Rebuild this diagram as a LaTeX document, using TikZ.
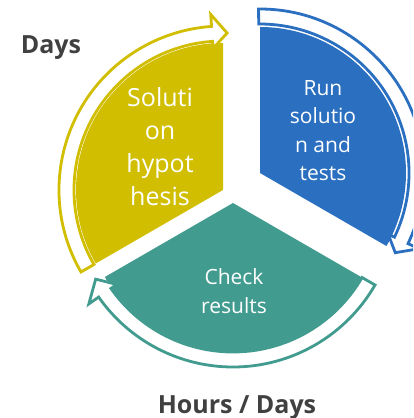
\documentclass[tikz,border=0pt]{standalone}
\usepackage{fontspec}
\setmainfont{Open Sans}
\definecolor{ycol}{RGB}{209,190,0}
\definecolor{bcol}{RGB}{42,111,192}
\definecolor{tcol}{RGB}{65,155,143}
\definecolor{labelgray}{RGB}{64,64,64}
\begin{document}
\begin{tikzpicture}[x=1pt,y=1pt,
  cyclearrow/.style={draw, fill=white, line width=2.8pt, line join=miter},
  wtext/.style={text=white, align=center, inner sep=0pt},
  lbl/.style={text=labelgray, font=\bfseries\fontsize{25}{30}\selectfont, inner sep=0pt, anchor=base}]
\useasboundingbox (0,0) rectangle (413,-418);
\clip (0,0) rectangle (413,-418);
\coordinate (Y) at (223,-190);
\coordinate (B) at (260,-173);
\coordinate (T) at (233,-203);
% wedges
\fill[ycol] (Y) -- ++(90:147) arc[start angle=90,end angle=210,radius=147] -- cycle;
\fill[bcol] (B) -- ++(90:146) arc[start angle=90,end angle=-30,radius=146] -- cycle;
\fill[tcol] (T) -- ++(-30:148) arc[start angle=-30,end angle=-150,radius=148] -- cycle;
% arrows
\begin{scope}[shift={(Y)}]
\draw[cyclearrow, draw=ycol] (210:164) arc[start angle=210,end angle=94,radius=164]
  -- (94:176) -- (88.5:157) -- (94:142) -- (94:149)
  arc[start angle=94,end angle=210,radius=149] -- cycle;
\end{scope}
\begin{scope}[shift={(B)}]
\draw[cyclearrow, draw=bcol] (90.5:164) arc[start angle=90.5,end angle=-25.5,radius=164]
  -- (-25.5:176) -- (-30.5:157) -- (-25.5:142) -- (-25.5:149)
  arc[start angle=-25.5,end angle=90.5,radius=149] -- cycle;
\end{scope}
\begin{scope}[shift={(T)}]
\draw[cyclearrow, draw=tcol] (-30:164) arc[start angle=-30,end angle=-145,radius=164]
  -- (-145:176) -- (-151:157) -- (-145:142) -- (-145:149)
  arc[start angle=-145,end angle=-30,radius=149] -- cycle;
\end{scope}
% texts
\node[wtext, font=\fontsize{25}{33}\selectfont] (ytext) at (160,-147) {Soluti\\on\\hypot\\hesis};
\node[wtext, font=\fontsize{21}{28.5}\selectfont] (btext) at (323,-130.5) {Run\\solutio\\n and\\tests};
\node[wtext, font=\fontsize{21}{28.5}\selectfont] (ttext) at (234,-291) {Check\\results};
\node[lbl] (days) at (51,-53) {Days};
\node[lbl] (hours) at (237,-413) {Hours / Days};
\end{tikzpicture}
\end{document}
